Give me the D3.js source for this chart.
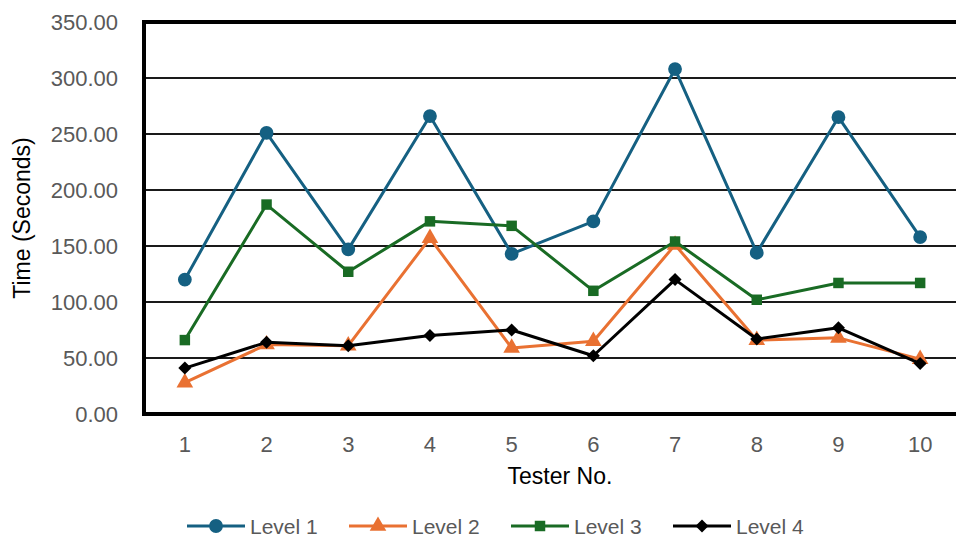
<!DOCTYPE html>
<html>
<head>
<meta charset="utf-8">
<script src="https://cdn.jsdelivr.net/npm/d3@7"></script>
<style>
  html, body { margin: 0; padding: 0; background: #fff; }
  svg { display: block; font-family: "Liberation Sans", Arial, sans-serif; }
</style>
</head>
<body>
<svg id="chart" width="956" height="537"></svg>
<script>
const categories = ["1","2","3","4","5","6","7","8","9","10"];
const yTicks = [0, 50, 100, 150, 200, 250, 300, 350];
const seriesNames = ["Level 1", "Level 2", "Level 3", "Level 4"];
const level1 = [120, 251, 147, 266, 143, 172, 308, 144, 265, 158];
const level2 = [28, 62, 61, 157, 59, 65, 151, 66, 68, 49];
const level3 = [66, 187, 127, 172, 168, 110, 154, 102, 117, 117];
const level4 = [41, 64, 61, 70, 75, 52, 120, 67, 77, 45];
const seriesValues = [level1, level2, level3, level4];
const colors = ["#156082", "#E97132", "#196B24", "#000000"];
const markers = [d3.symbolCircle, d3.symbolTriangle, d3.symbolSquare, d3.symbolSquare];
const markerSizes = [150, 120, 110, 85];
const markerRot = [0, 0, 0, 45];

const svg = d3.select("#chart");
const plotLeft = 144, plotRight = 961, plotTop = 22, plotBottom = 414;

const x = d3.scaleBand().domain(categories).range([plotLeft, plotRight]).padding(0);
const y = d3.scaleLinear().domain([0, 350]).range([plotBottom, plotTop]);
const cx = c => x(c) + x.bandwidth() / 2;

// gridlines
svg.append("g").selectAll("line").data(yTicks.filter(t => t > 0 && t < 350)).join("line")
  .attr("x1", plotLeft).attr("x2", 956)
  .attr("y1", d => y(d)).attr("y2", d => y(d))
  .attr("stroke", "#1a1a1a").attr("stroke-width", 2);

// frame: top, left, bottom thick
svg.append("line").attr("x1", plotLeft).attr("x2", 956).attr("y1", y(350)).attr("y2", y(350))
  .attr("stroke", "#000").attr("stroke-width", 4);
svg.append("line").attr("x1", plotLeft).attr("x2", 956).attr("y1", y(0)).attr("y2", y(0))
  .attr("stroke", "#000").attr("stroke-width", 4);
svg.append("line").attr("x1", plotLeft).attr("x2", plotLeft).attr("y1", y(350) - 2).attr("y2", y(0) + 2)
  .attr("stroke", "#000").attr("stroke-width", 4);

// y axis labels
const yAxis = d3.axisLeft(y).tickValues(yTicks).tickFormat(d => d.toFixed(2)).tickSize(0).tickPadding(26);
const gy = svg.append("g").attr("transform", `translate(${plotLeft},0)`).call(yAxis);
gy.select(".domain").remove();
gy.selectAll("text").attr("font-size", 22).attr("fill", "#595959")
  .attr("font-family", "Liberation Sans, Arial, sans-serif");

// x axis labels
const xAxis = d3.axisBottom(x).tickSize(0).tickPadding(22);
const gx = svg.append("g").attr("transform", `translate(0,${plotBottom})`).call(xAxis);
gx.select(".domain").remove();
gx.selectAll("text").attr("font-size", 22).attr("fill", "#595959")
  .attr("font-family", "Liberation Sans, Arial, sans-serif");

// titles
svg.append("text").attr("x", 560).attr("y", 484).attr("text-anchor", "middle")
  .attr("font-size", 23).attr("fill", "#000").text("Tester No.");
svg.append("text").attr("transform", "translate(30,218) rotate(-90)").attr("text-anchor", "middle")
  .attr("font-size", 23).attr("fill", "#000").text("Time (Seconds)");

// series
const line = d3.line().x((d, i) => cx(categories[i])).y(d => y(d));
seriesValues.forEach((vals, si) => {
  const g = svg.append("g");
  g.append("path").datum(vals).attr("d", line)
    .attr("fill", "none").attr("stroke", colors[si]).attr("stroke-width", 3)
    .attr("stroke-linejoin", "round");
  g.selectAll("path.m").data(vals).join("path").attr("class", "m")
    .attr("transform", (d, i) => `translate(${cx(categories[i])},${y(d)}) rotate(${markerRot[si]})`)
    .attr("d", d3.symbol().type(markers[si]).size(markerSizes[si]))
    .attr("fill", colors[si]);
});

// legend
const legX = [187, 349, 511, 673];
const legY = 526;
seriesNames.forEach((name, i) => {
  const g = svg.append("g").attr("transform", `translate(${legX[i]},${legY})`);
  g.append("line").attr("x1", 0).attr("x2", 58).attr("y1", 0).attr("y2", 0)
    .attr("stroke", colors[i]).attr("stroke-width", 3);
  g.append("path").attr("transform", `translate(29,0) rotate(${markerRot[i]})`)
    .attr("d", d3.symbol().type(markers[i]).size(markerSizes[i])).attr("fill", colors[i]);
  g.append("text").attr("x", 63).attr("y", 0).attr("dy", "0.36em")
    .attr("font-size", 21).attr("fill", "#595959").text(name);
});
</script>
</body>
</html>
